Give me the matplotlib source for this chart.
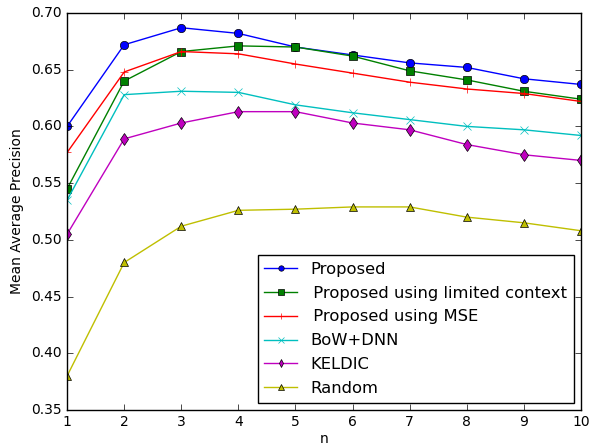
import numpy as np
import matplotlib
matplotlib.use('Agg')
import matplotlib.pyplot as plt

plt.style.use('classic')

n = [1, 2, 3, 4, 5, 6, 7, 8, 9, 10]
proposed = [0.600, 0.672, 0.687, 0.682, 0.670, 0.663, 0.656, 0.652, 0.642, 0.637]
limited = [0.545, 0.640, 0.666, 0.671, 0.670, 0.662, 0.649, 0.641, 0.631, 0.624]
mse = [0.577, 0.648, 0.666, 0.664, 0.655, 0.647, 0.639, 0.633, 0.629, 0.622]
bow_dnn = [0.535, 0.628, 0.631, 0.630, 0.619, 0.612, 0.606, 0.600, 0.597, 0.592]
keldic = [0.505, 0.589, 0.603, 0.613, 0.613, 0.603, 0.597, 0.584, 0.575, 0.570]
random_base = [0.380, 0.480, 0.512, 0.526, 0.527, 0.529, 0.529, 0.520, 0.515, 0.508]

fig = plt.figure(figsize=(5.94, 4.48), dpi=100, facecolor='white')
ax = fig.add_axes([0.113, 0.085, 0.865, 0.886])

ax.plot(n, proposed, 'b-o', label='Proposed')
ax.plot(n, limited, 'g-s', label='\u2009Proposed using limited context')
ax.plot(n, mse, 'r-+', label='\u2009Proposed using MSE')
ax.plot(n, bow_dnn, 'c-x', label='BoW+DNN')
ax.plot(n, keldic, 'm-d', label='KELDIC')
ax.plot(n, random_base, 'y-^', label='Random')

ax.set_xlim(1, 10)
ax.set_ylim(0.35, 0.70)
ax.set_xticks(n)
ax.tick_params(labelsize=10)
ax.set_xlabel('n', fontsize=10, labelpad=2)
ax.set_ylabel('Mean Average Precision', fontsize=10)
ax.legend(loc='lower right', fontsize=11.8, numpoints=1, fancybox=False,
          markerscale=0.65, borderaxespad=0.45, labelspacing=0.54)

fig.savefig('out.png', dpi=100, facecolor='white')
